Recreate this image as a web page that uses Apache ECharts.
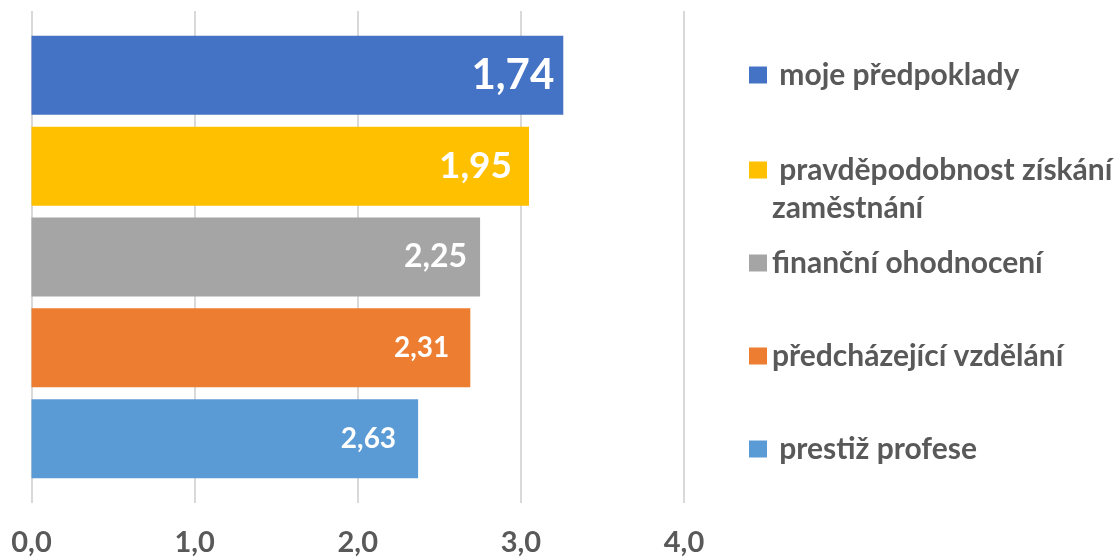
<!DOCTYPE html>
<html>
<head>
<meta charset="utf-8">
<script src="https://cdn.jsdelivr.net/npm/echarts@6/dist/echarts.min.js"></script>
<style>
  html, body { margin: 0; padding: 0; background: #fff; }
  #chart { width: 1118px; height: 559px; }
</style>
</head>
<body>
<div id="chart"></div>
<script>
    // data
    const seriesNames = ['moje předpoklady', 'pravděpodobnost získání zaměstnání', 'finanční ohodnocení', 'předcházející vzdělání', 'prestiž profese'];
    const legendLabels = [' moje předpoklady', ' pravděpodobnost získání\nzaměstnání', 'finanční ohodnocení', 'předcházející vzdělání', ' prestiž profese'];
    const barValues = [3.26, 3.05, 2.75, 2.69, 2.37];
    const valueLabels = ['1,74', '1,95', '2,25', '2,31', '2,63'];
    const xTicks = [0, 1, 2, 3, 4];

    const colors = ['#4472C4', '#FFC000', '#A5A5A5', '#ED7D31', '#5B9BD5'];
    const labelSizes = [42, 37, 32, 28, 28];
    const labelDist = [9, 17, 13, 21, 22];
    const legendCenter = [75, 170, 263, 356, 449]; // icon centres
    const FONT = 'Lato';
    const LH = 38; // legend line height

    let chart = echarts.init(document.getElementById('chart'));

    let series = seriesNames.map(function (name, i) {
        return {
            name: name,
            type: 'bar',
            data: [barValues[i]],
            barWidth: 79,
            barGap: '15%',
            itemStyle: { color: colors[i] },
            label: {
                show: true,
                position: 'insideRight',
                distance: labelDist[i],
                formatter: valueLabels[i],
                color: '#fff',
                fontFamily: FONT,
                fontWeight: 'bold',
                fontSize: labelSizes[i]
            }
        };
    });

    // one legend per entry, so each can sit beside its bar
    let legends = seriesNames.map(function (name, i) {
        let twoLines = legendLabels[i].indexOf('\n') >= 0;
        return {
            data: [name],
            left: 749,
            // an empty first line keeps the icon level with the first text line
            top: legendCenter[i] - (twoLines ? LH * 1.5 : LH / 2),
            padding: 0,
            itemWidth: 18,
            itemHeight: 17,
            icon: 'rect',
            selectedMode: false,
            formatter: function () { return (twoLines ? '\n' : '') + legendLabels[i]; },
            textStyle: {
                color: '#595959',
                fontFamily: FONT,
                fontWeight: 'bold',
                fontSize: 30,
                lineHeight: LH
            }
        };
    });

    chart.setOption({
        animation: false,
        grid: { left: 31.5, right: 434, top: 11, bottom: 56, containLabel: false },
        legend: legends,
        xAxis: {
            type: 'value',
            min: xTicks[0],
            max: xTicks[xTicks.length - 1],
            interval: 1,
            axisLine: { show: false },
            axisTick: { show: false },
            splitLine: { lineStyle: { color: '#d9d9d9', width: 2 } },
            axisLabel: {
                margin: 25,
                color: '#595959',
                fontFamily: FONT,
                fontWeight: 'bold',
                fontSize: 29,
                formatter: function (v) { return v.toFixed(1).replace('.', ','); }
            }
        },
        yAxis: {
            type: 'category',
            data: [''],
            axisLine: { show: false },
            axisTick: { show: false },
            axisLabel: { show: false }
        },
        series: series
    });
</script>
</body>
</html>
